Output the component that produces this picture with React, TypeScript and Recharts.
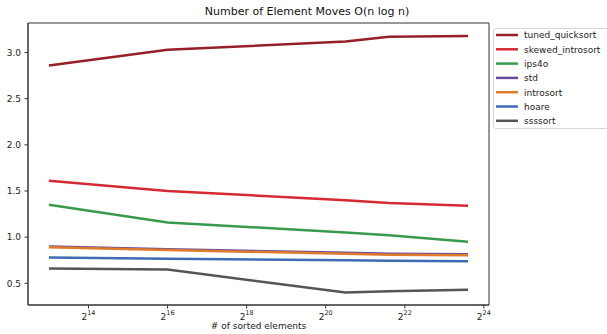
import React from "react";
import {LineChart, Line, XAxis, YAxis, ReferenceArea} from "recharts";

// x values are log2 of the number of sorted elements
const sizes = [13, 16, 20.5, 21.6, 23.6];
const tunedQuicksort = [2.86, 3.03, 3.12, 3.17, 3.18];
const skewedIntrosort = [1.61, 1.5, 1.4, 1.37, 1.34];
const ips4o = [1.35, 1.16, 1.05, 1.02, 0.95];
const std = [0.9, 0.87, 0.83, 0.82, 0.815];
const introsort = [0.89, 0.86, 0.82, 0.81, 0.805];
const hoare = [0.78, 0.765, 0.75, 0.745, 0.74];
const ssssort = [0.66, 0.65, 0.4, 0.415, 0.43];

const xTicks = [14, 16, 18, 20, 22, 24];
const yTicks = [0.5, 1.0, 1.5, 2.0, 2.5, 3.0];

const series = [
    {key: "tuned_quicksort", values: tunedQuicksort, color: "#962028"},
    {key: "skewed_introsort", values: skewedIntrosort, color: "#d62a33"},
    {key: "ips4o", values: ips4o, color: "#3a9a4c"},
    {key: "std", values: std, color: "#6b4c9a"},
    {key: "introsort", values: introsort, color: "#e07b2b"},
    {key: "hoare", values: hoare, color: "#3b6bb4"},
    {key: "ssssort", values: ssssort, color: "#555555"},
];

const data = sizes.map((n, i) => {
    const row: Record<string, number> = {n};
    series.forEach(s => {
        row[s.key] = s.values[i];
    });
    return row;
});

const X_DOMAIN: [number, number] = [12.47, 24.13];
const Y_DOMAIN: [number, number] = [0.265, 3.32];
const FS = 9;

const PowerTick = (props: any) => {
    const {x, y, payload} = props;
    return (
        <text x={x} y={y + 9} textAnchor="middle" fill="#222" fontSize={FS}>
            <tspan>2</tspan>
            <tspan dy={-4.5} fontSize={6.5}>{payload.value}</tspan>
        </text>
    );
};

const LegendBox = () => (
    <div style={{
        position: "absolute",
        left: 493,
        top: 28,
        width: 116,
        height: 101,
        border: "1px solid #d6d6d6",
        borderRadius: 3,
        background: "#fff",
        boxSizing: "border-box",
    }}>
        <svg width={116} height={101} style={{position: "absolute", left: -1, top: -1}}>
            {series.map((s, i) => {
                const y = 7 + i * 14.3;
                return (
                    <g key={s.key}>
                        <line x1={3} x2={25} y1={y} y2={y} stroke={s.color} strokeWidth={2.5}/>
                        <text x={31} y={y + 3.3} fontSize={FS} fill="#222">{s.key}</text>
                    </g>
                );
            })}
        </svg>
    </div>
);

const App = () => {
    return (
        <div style={{position: "absolute", left: 0, top: 0, width: 607, height: 334, fontFamily: "DejaVu Sans", background: "#fff", overflow: "hidden"}}>
            <div style={{position: "absolute", left: 0, top: 5, width: 614, textAlign: "center", fontSize: 11, lineHeight: "13px", color: "#111"}}>
                Number of Element Moves O(n log n)
            </div>
            <LineChart width={607} height={334} data={data} margin={{top: 23, right: 118, bottom: 0, left: 0}}>
                <XAxis
                    type="number"
                    dataKey="n"
                    domain={X_DOMAIN}
                    ticks={xTicks}
                    allowDataOverflow
                    height={29}
                    tickSize={3.5}
                    tickMargin={2}
                    tick={<PowerTick/>}
                    stroke="#333"
                />
                <YAxis
                    type="number"
                    domain={Y_DOMAIN}
                    ticks={yTicks}
                    allowDataOverflow
                    width={28}
                    tickSize={3.5}
                    tickMargin={3.5}
                    tick={{fontSize: FS, fill: "#222"}}
                    tickFormatter={(v: number) => v.toFixed(1)}
                    stroke="#333"
                />
                <ReferenceArea x1={X_DOMAIN[0]} x2={X_DOMAIN[1]} y1={Y_DOMAIN[0]} y2={Y_DOMAIN[1]} fill="none" stroke="#333" strokeWidth={1} fillOpacity={0} strokeOpacity={1}/>
                {series.map(s => (
                    <Line
                        key={s.key}
                        type="linear"
                        dataKey={s.key}
                        stroke={s.color}
                        strokeWidth={2.5}
                        dot={false}
                        activeDot={false}
                        isAnimationActive={false}
                    />
                ))}
            </LineChart>
            <LegendBox/>
            <div style={{position: "absolute", left: 0, top: 321, width: 517, textAlign: "center", fontSize: FS, lineHeight: "11px", color: "#222"}}>
                # of sorted elements
            </div>
        </div>
    );
};

export default App;
